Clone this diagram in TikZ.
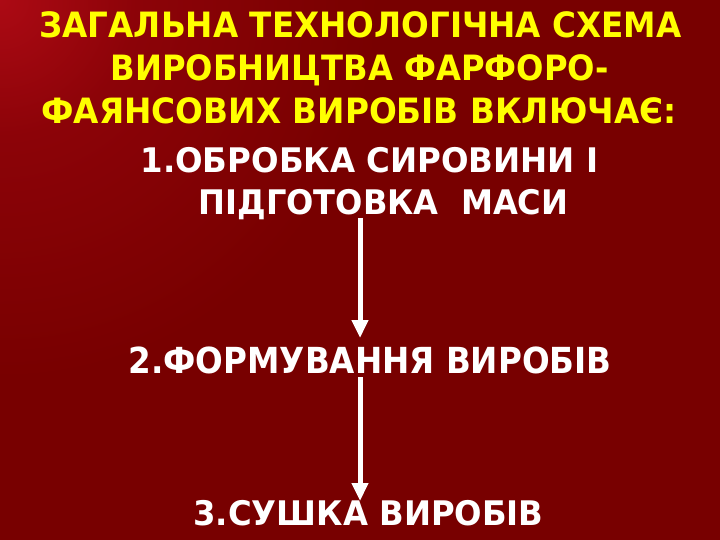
\documentclass[tikz,border=0pt]{standalone}
\usepackage{fontspec}
\setmainfont{DejaVu Sans}
\usetikzlibrary{arrows.meta}
\definecolor{bg}{RGB}{120,0,0}
\definecolor{bgmid}{RGB}{140,3,8}
\definecolor{bglight}{RGB}{172,10,20}
\definecolor{ttl}{RGB}{255,255,0}
\pgfdeclareradialshading{cornerglow}{\pgfpoint{0bp}{0bp}}{color(0bp)=(bglight); color(9bp)=(bgmid); color(25bp)=(bg); color(50bp)=(bg)}
\newcommand{\fitw}[2]{\resizebox{#1}{\height}{#2}}
\tikzset{
  title/.style={text=ttl, font=\bfseries\fontsize{35}{35}\selectfont, inner sep=0pt, anchor=base},
  item/.style={text=white, font=\bfseries\fontsize{34}{34}\selectfont, inner sep=0pt, anchor=base},
  flow/.style={draw=white, line width=5bp, -{Triangle[width=16bp,length=18bp]}}
}
\begin{document}
\begin{tikzpicture}[x=1bp,y=-1bp]
\useasboundingbox (0,0) rectangle (720,540);
\fill[bg] (0,0) rectangle (720,540);
\begin{scope}
  \clip (0,0) rectangle (720,540);
  \shade[shading=cornerglow] (-380,-380) rectangle (380,380);
\end{scope}
\node[title] (t1) at (360.5,38) {\fitw{642bp}{ЗАГАЛЬНА ТЕХНОЛОГІЧНА СХЕМА}};
\node[title] (t2) at (359.5,81) {\fitw{498bp}{ВИРОБНИЦТВА ФАРФОРО-}};
\node[title] (t3) at (359,124) {\fitw{635bp}{ФАЯНСОВИХ ВИРОБІВ ВКЛЮЧАЄ:}};
\node[item] (l4) at (369.5,173) {\fitw{458bp}{1.ОБРОБКА СИРОВИНИ І}};
\node[item] (l5) at (383.5,215) {\fitw{370bp}{ПІДГОТОВКА\ \ МАСИ}};
\node[item, font=\bfseries\fontsize{36}{36}\selectfont] (l6) at (370,373) {\fitw{483bp}{2.ФОРМУВАННЯ ВИРОБІВ}};
\node[item] (l7) at (368.5,525) {\fitw{350bp}{3.СУШКА ВИРОБІВ}};
\coordinate (s1) at (360,218);
\coordinate (e1) at (360,338);
\coordinate (s2) at (360,377);
\coordinate (e2) at (360,501);
\draw[flow] (s1) -- (e1);
\draw[flow] (s2) -- (e2);
\end{tikzpicture}
\end{document}
